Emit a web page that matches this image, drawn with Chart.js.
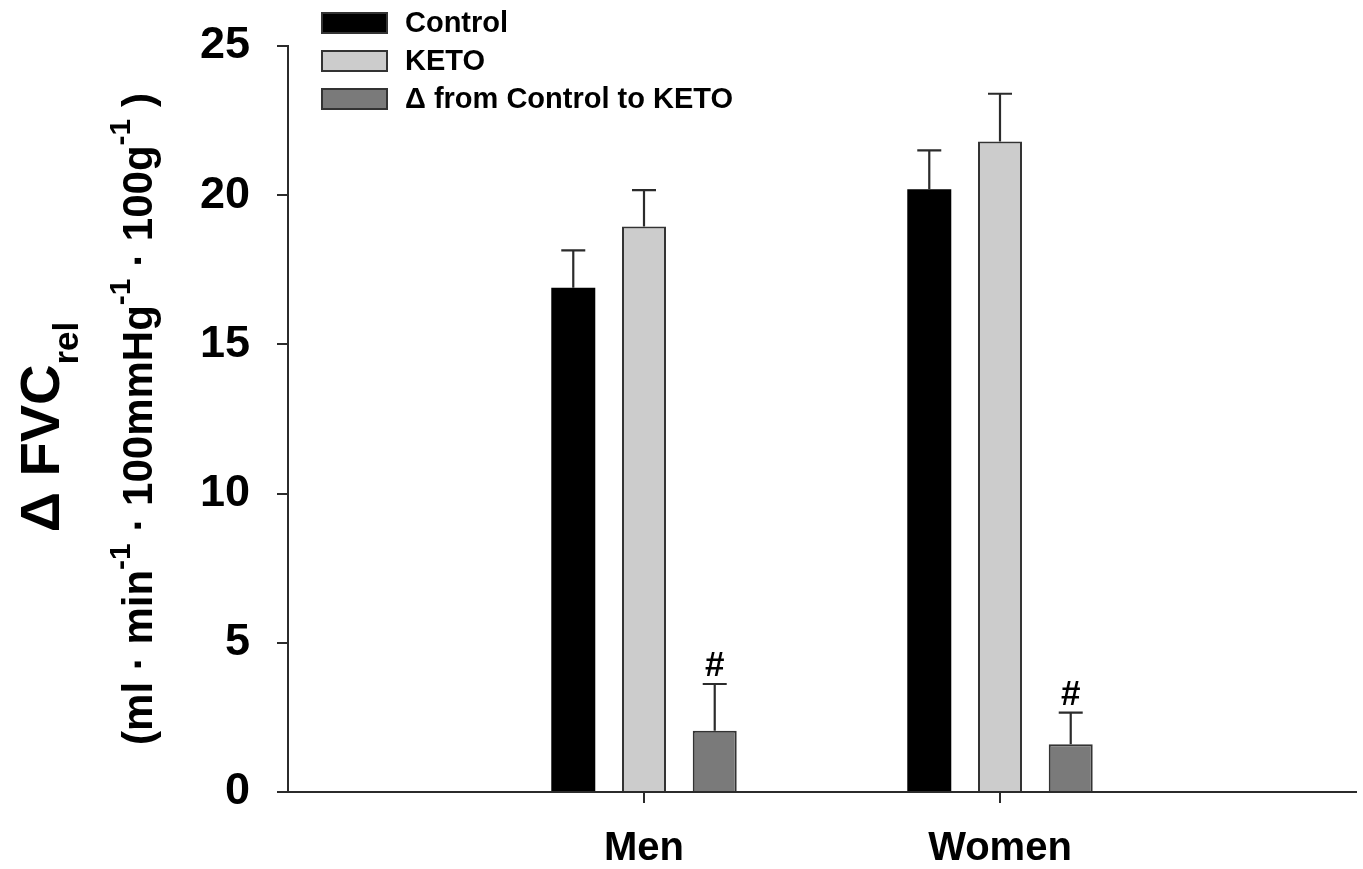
<!DOCTYPE html>
<html>
<head>
<meta charset="utf-8">
<title>Δ FVC rel — Control vs KETO</title>
<script src="https://cdn.jsdelivr.net/npm/chart.js@4.4.1/dist/chart.umd.min.js"></script>
<style>
  html, body { margin: 0; padding: 0; background: #ffffff; }
  #wrap { width: 1363px; height: 869px; position: relative; }
</style>
</head>
<body>
<div id="wrap"><canvas id="chart"></canvas></div>
<script>
// Groups along the x axis
const categories = ['Men', 'Women'];

// Series names
const seriesNames = ['Control', 'KETO', 'Δ from Control to KETO'];

// Mean values (ml·min⁻¹·100mmHg⁻¹·100g⁻¹)
const controlValues = [16.9, 20.2];
const ketoValues = [18.95, 21.8];
const deltaValues = [2.05, 1.6];

// Upper error bars (SEM)
const controlErrors = [1.25, 1.3];
const ketoErrors = [1.22, 1.6];
const deltaErrors = [1.57, 1.06];

// Significance marks placed above the Δ bars
const deltaMarks = ['#', '#'];

// Y axis ticks
const yTicks = [0, 5, 10, 15, 20, 25];

const FONT = "'Liberation Sans', Arial, Helvetica, sans-serif";
const INK = '#2b2b2b';

const toPoints = vals => vals.map((v, i) => ({ x: i + 1, y: v }));

const datasets = [
  { label: seriesNames[0], data: toPoints(controlValues), errors: controlErrors,
    backgroundColor: '#000000', borderColor: '#000000', borderWidth: 0 },
  { label: seriesNames[1], data: toPoints(ketoValues), errors: ketoErrors,
    backgroundColor: '#cccccc', borderColor: '#333333', borderWidth: 2 },
  { label: seriesNames[2], data: toPoints(deltaValues), errors: deltaErrors, marks: deltaMarks,
    backgroundColor: '#7a7a7a', borderColor: '#333333', borderWidth: 2 }
];

// One-sided error bars with caps, plus text marks above them
const errorBarPlugin = {
  id: 'errorBars',
  afterDatasetsDraw(chart) {
    const ctx = chart.ctx;
    const yScale = chart.scales.y;
    chart.data.datasets.forEach((ds, di) => {
      const meta = chart.getDatasetMeta(di);
      meta.data.forEach((bar, j) => {
        const v = ds.data[j].y;
        const top = yScale.getPixelForValue(v + ds.errors[j]);
        const base = yScale.getPixelForValue(v);
        ctx.save();
        ctx.strokeStyle = INK;
        ctx.lineWidth = 2.2;
        ctx.beginPath();
        ctx.moveTo(bar.x, base);
        ctx.lineTo(bar.x, top);
        ctx.moveTo(bar.x - 12, top);
        ctx.lineTo(bar.x + 12, top);
        ctx.stroke();
        if (ds.marks && ds.marks[j]) {
          ctx.fillStyle = '#000000';
          ctx.font = 'bold 35px ' + FONT;
          ctx.textAlign = 'center';
          ctx.textBaseline = 'alphabetic';
          ctx.fillText(ds.marks[j], bar.x, top - 8);
        }
        ctx.restore();
      });
    });
  }
};

// Vertical legend in the upper left of the plot
const legendPlugin = {
  id: 'boxLegend',
  afterDraw(chart) {
    const ctx = chart.ctx;
    const x0 = 321, y0 = 12, boxW = 67, boxH = 22, step = 38;
    ctx.save();
    chart.data.datasets.forEach((ds, i) => {
      const y = y0 + i * step;
      ctx.fillStyle = ds.backgroundColor;
      ctx.fillRect(x0, y, boxW, boxH);
      ctx.lineWidth = 2;
      ctx.strokeStyle = '#333333';
      ctx.strokeRect(x0 + 1, y + 1, boxW - 2, boxH - 2);
      ctx.fillStyle = '#000000';
      ctx.font = 'bold 29px ' + FONT;
      ctx.textAlign = 'left';
      ctx.textBaseline = 'middle';
      ctx.fillText(ds.label, x0 + 84, y + boxH / 2 + 1);
    });
    ctx.restore();
  }
};

// Two-line rotated y axis title with sub/superscripts
const yTitlePlugin = {
  id: 'yTitle',
  afterDraw(chart) {
    const ctx = chart.ctx;
    const area = chart.chartArea;
    const cy = (area.top + area.bottom) / 2;
    const lines = [
      { base: 59, center: cy + 8, parts: [
        { t: 'Δ FVC', size: 56, dy: 0 },
        { t: 'rel', size: 35, dy: 19 }
      ]},
      { base: 152, center: cy, parts: [
        { t: '(ml · min', size: 42, dy: 0 },
        { t: '-1', size: 30, dy: -22 },
        { t: ' · 100mmHg', size: 42, dy: 0 },
        { t: '-1', size: 30, dy: -22 },
        { t: ' · 100g', size: 42, dy: 0 },
        { t: '-1', size: 30, dy: -22 },
        { t: ' )', size: 42, dy: 0 }
      ]}
    ];
    ctx.save();
    ctx.fillStyle = '#000000';
    ctx.textBaseline = 'alphabetic';
    ctx.textAlign = 'left';
    lines.forEach(line => {
      let total = 0;
      line.parts.forEach(p => {
        ctx.font = 'bold ' + p.size + 'px ' + FONT;
        p.w = ctx.measureText(p.t).width;
        total += p.w;
      });
      ctx.save();
      ctx.translate(line.base, line.center);
      ctx.rotate(-Math.PI / 2);
      let x = -total / 2;
      line.parts.forEach(p => {
        ctx.font = 'bold ' + p.size + 'px ' + FONT;
        ctx.fillText(p.t, x, p.dy);
        x += p.w;
      });
      ctx.restore();
    });
    ctx.restore();
  }
};

new Chart(document.getElementById('chart'), {
  type: 'bar',
  data: { datasets },
  plugins: [errorBarPlugin, legendPlugin, yTitlePlugin],
  options: {
    responsive: true,
    maintainAspectRatio: false,
    animation: false,
    layout: { padding: { left: 0, right: 7, top: 46, bottom: 0 } },
    datasets: { bar: { categoryPercentage: 0.596, barPercentage: 0.622 } },
    plugins: { legend: { display: false }, tooltip: { enabled: false } },
    scales: {
      x: {
        type: 'linear',
        min: 0,
        max: categories.length + 1,
        offset: false,
        afterBuildTicks(scale) {
          scale.ticks = categories.map((_, i) => ({ value: i + 1 }));
        },
        afterFit(scale) { scale.height = 77; },
        ticks: {
          padding: 22,
          color: '#000000',
          font: { family: FONT, size: 40, weight: 'bold' },
          callback: v => categories[v - 1] ?? ''
        },
        grid: { offset: false, drawOnChartArea: false, drawTicks: true, tickLength: 11,
                color: INK, lineWidth: 2 },
        border: { display: true, color: INK, width: 2 }
      },
      y: {
        min: yTicks[0],
        max: yTicks[yTicks.length - 1],
        afterBuildTicks(scale) {
          scale.ticks = yTicks.map(v => ({ value: v }));
        },
        afterFit(scale) { scale.width = 288; },
        ticks: {
          padding: 27,
          color: '#000000',
          font: { family: FONT, size: 45, weight: 'bold', lineHeight: 0.6 }
        },
        grid: { drawOnChartArea: false, drawTicks: true, tickLength: 11,
                color: INK, lineWidth: 2 },
        border: { display: true, color: INK, width: 2 }
      }
    }
  }
});
</script>
</body>
</html>
